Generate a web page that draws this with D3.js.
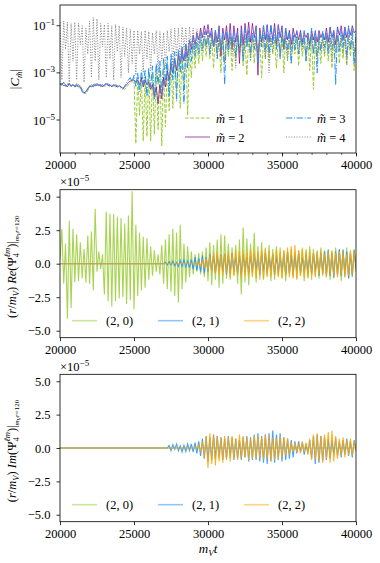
<!DOCTYPE html>
<html>
<head>
<meta charset="utf-8">
<script src="https://cdn.jsdelivr.net/npm/d3@7"></script>
<style>
  body { margin: 0; background: #fff; }
  text { font-family: "Liberation Serif", "DejaVu Serif", serif; fill: #000; }
</style>
</head>
<body>
<div id="chart"></div>
<script>
//----------data---------
//time axis: samples every 125 in m_V t
const T_MIN = 20000, T_MAX = 40000, STEP = 125;
const xTicks = [20000, 25000, 30000, 35000, 40000];
const logTicks = [-1, -3, -5];
const waveTicks = [5, 2.5, 0, -2.5, -5];

//top panel: log10 |C_m| for m = 1..4, from 20000
const cm1Log = [
  -3.45, -3.55, -3.4, -3.6, -3.45, -3.5, -3.6, -3.5, -3.55, -3.45, -3.6, -3.55, -3.7, -3.8, -3.9, -3.75,
  -3.6, -3.5, -3.55, -3.45, -3.55, -3.5, -3.6, -3.5, -3.55, -3.45, -3.5, -3.6, -3.55, -3.5, -3.6, -3.55,
  -3.5, -3.6, -3.65, -3.7, -3.6, -3.5, -3.4, -3.3, -3.3, -6.0, -3.2, -4.8, -3.2, -5.9, -3.1, -5.7,
  -3.0, -5.9, -3.0, -5.6, -2.9, -5.4, -2.9, -6.1, -2.8, -5.3, -2.6, -4.6, -2.5, -4.5, -2.4, -3.8,
  -2.3, -4.5, -2.2, -3.5, -2.0, -4.8, -2.0, -3.2, -1.8, -2.8, -1.7, -2.6, -1.6, -2.5, -1.5, -2.3,
  -1.4, -2.4, -1.5, -2.8, -1.4, -2.2, -1.6, -3.0, -1.5, -2.6, -1.4, -2.3, -1.5, -2.9, -1.6, -2.5,
  -1.5, -2.2, -1.4, -2.7, -1.6, -3.1, -1.5, -2.4, -1.4, -2.6, -1.5, -2.3, -1.6, -3.2, -1.5, -2.4,
  -1.4, -2.5, -1.5, -2.2, -1.6, -2.8, -1.5, -2.3, -1.4, -3.0, -1.5, -2.4, -1.6, -2.6, -1.5, -2.2,
  -1.5, -2.7, -1.4, -2.3, -1.6, -2.5, -1.5, -2.9, -1.4, -3.7, -1.5, -2.4, -1.6, -2.6, -1.5, -2.3,
  -1.4, -2.5, -1.5, -2.8, -1.6, -2.2, -1.4, -2.6, -1.5, -2.4, -1.3, -2.7, -1.5, -2.3, -1.4, -2.9,
  -1.8
];
const cm2Log = [
  -3.5, -3.45, -3.55, -3.5, -3.6, -3.45, -3.55, -3.5, -3.6, -3.55, -3.5, -3.6, -3.75, -3.85, -3.8, -3.7,
  -3.55, -3.6, -3.5, -3.55, -3.45, -3.55, -3.5, -3.6, -3.5, -3.45, -3.55, -3.5, -3.6, -3.5, -3.55, -3.6,
  -3.55, -3.6, -3.65, -3.6, -3.5, -3.4, -3.35, -3.3, -3.3, -3.4, -3.3, -3.5, -3.2, -3.6, -3.3, -3.5,
  -3.4, -3.7, -3.5, -4.0, -3.6, -4.3, -3.5, -4.1, -3.2, -3.6, -2.9, -3.3, -2.6, -3.0, -2.4, -2.9,
  -2.2, -2.6, -2.0, -2.5, -1.8, -2.3, -1.6, -2.0, -1.4, -1.8, -1.3, -1.6, -1.1, -1.5, -1.0, -1.4,
  -0.95, -1.5, -1.1, -1.9, -1.2, -1.7, -1.0, -2.3, -1.1, -1.6, -1.0, -1.8, -0.9, -2.0, -1.0, -1.7,
  -1.1, -2.6, -1.0, -1.8, -0.9, -1.6, -0.85, -1.7, -0.9, -1.5, -1.0, -3.1, -1.1, -1.7, -1.0, -1.6,
  -0.95, -1.7, -1.0, -1.6, -0.9, -1.8, -0.95, -1.5, -1.0, -2.0, -1.1, -1.6, -1.2, -1.8, -1.1, -1.5,
  -1.25, -1.6, -1.2, -1.7, -1.3, -1.5, -1.3, -1.8, -1.2, -1.6, -1.25, -1.7, -1.2, -1.5, -1.3, -1.6,
  -1.1, -1.7, -1.05, -1.5, -1.2, -1.8, -1.05, -1.4, -1.0, -1.6, -1.05, -1.5, -1.1, -1.4, -1.0, -1.3,
  -1.2
];
const cm3Log = [
  -3.45, -3.5, -3.4, -3.55, -3.5, -3.45, -3.6, -3.5, -3.55, -3.5, -3.65, -3.6, -3.8, -3.9, -3.8, -3.65,
  -3.6, -3.5, -3.6, -3.5, -3.55, -3.45, -3.55, -3.5, -3.6, -3.5, -3.45, -3.55, -3.5, -3.6, -3.5, -3.55,
  -3.6, -3.65, -3.7, -3.55, -3.4, -3.3, -3.2, -3.4, -3.1, -3.6, -3.0, -3.8, -2.9, -3.5, -2.9, -4.0,
  -2.8, -3.6, -2.7, -4.1, -2.6, -3.5, -2.5, -3.9, -2.4, -3.4, -2.3, -4.0, -2.2, -3.3, -2.1, -4.2,
  -2.0, -3.0, -1.9, -4.3, -1.8, -2.8, -1.6, -2.5, -1.5, -2.3, -1.4, -2.2, -1.3, -2.0, -1.25, -1.9,
  -1.2, -2.2, -1.3, -1.9, -1.2, -2.4, -1.1, -2.0, -1.25, -3.5, -1.2, -2.1, -1.3, -1.8, -1.2, -2.3,
  -1.3, -2.0, -1.2, -2.5, -1.1, -1.9, -1.2, -2.2, -1.3, -2.0, -1.1, -2.6, -1.2, -1.9, -1.0, -2.1,
  -1.0, -2.2, -0.95, -1.8, -1.1, -2.0, -1.0, -2.4, -1.2, -1.9, -1.1, -2.1, -1.2, -2.6, -1.3, -2.0,
  -1.2, -2.2, -1.3, -1.9, -1.2, -2.5, -1.3, -2.0, -1.1, -2.2, -1.2, -3.0, -1.3, -2.1, -1.2, -1.9,
  -1.3, -2.2, -1.1, -2.0, -1.2, -3.5, -1.1, -2.1, -1.2, -1.9, -1.1, -2.3, -1.0, -2.0, -1.1, -2.6,
  -1.3
];
const cm4Log = [
  -0.85, -3.3, -0.8, -2.0, -0.85, -3.4, -0.9, -2.5, -0.85, -3.3, -0.9, -1.8, -1.0, -3.4, -1.1, -2.2,
  -0.8, -3.2, -0.65, -2.5, -0.7, -3.3, -0.9, -1.9, -0.95, -3.2, -0.9, -2.4, -1.0, -3.3, -0.95, -2.1,
  -1.0, -3.2, -1.05, -2.3, -1.1, -3.0, -1.15, -2.6, -1.2, -3.1, -1.2, -2.2, -1.25, -3.0, -1.2, -2.4,
  -1.25, -2.9, -1.3, -2.2, -1.2, -3.0, -1.25, -2.5, -1.3, -2.8, -1.2, -2.1, -1.15, -2.7, -1.1, -2.3,
  -1.1, -2.6, -1.05, -2.0, -1.1, -2.5, -1.05, -1.9, -1.1, -2.2, -1.15, -1.8, -1.2, -2.1, -1.3, -1.9,
  -1.4, -2.1, -1.5, -1.9, -1.45, -2.4, -1.5, -2.0, -1.4, -2.6, -1.5, -1.9, -1.45, -2.2, -1.5, -2.8,
  -1.4, -2.0, -1.5, -2.3, -1.45, -1.9, -1.4, -2.5, -1.5, -2.0, -1.45, -2.2, -1.5, -1.9, -1.4, -2.4,
  -1.45, -3.0, -1.5, -2.1, -1.4, -1.9, -1.5, -2.3, -1.45, -2.0, -1.5, -2.5, -1.4, -2.1, -1.5, -1.9,
  -1.45, -2.2, -1.5, -2.0, -1.4, -2.4, -1.5, -1.9, -1.45, -2.1, -1.5, -2.3, -1.4, -2.0, -1.5, -2.2,
  -1.45, -2.0, -1.5, -2.4, -1.4, -2.1, -1.5, -1.9, -1.45, -2.2, -1.5, -2.6, -1.4, -2.0, -1.5, -2.1,
  -1.7
];

//middle panel: Re(Psi4) in units of 1e-5
const re20Start = 20000;
const re20 = [
  0.3, 2.6, -1.5, 1.5, -4.1, 3.2, -3.3, 2.6, -1.4, 2.2, -1.3, 1.6, -1.1, 1.1, -1.4, 2.1,
  -1.5, 2.4, -2.0, 4.1, -0.6, 0.9, -0.4, 0.7, -2.3, 3.9, -2.8, 3.75, -3.2, 3.7, -2.8, 3.5,
  -2.6, 3.4, -2.5, 3.0, -3.0, 3.6, -2.7, 5.4, -3.4, 2.9, -2.4, 2.3, -2.0, 2.0, -1.8, 1.9,
  -1.2, 1.3, -0.9, 1.0, -0.6, 0.7, -0.8, 1.4, -1.5, 1.8, -1.9, 2.2, -2.1, 2.6, -2.4, 2.3,
  -2.9, 2.9, -1.9, 1.5, -1.4, 1.3, -1.0, 0.9, -0.8, 0.7, -0.6, 0.8, -0.8, 0.9, -1.0, 1.2,
  -1.3, 1.6, -1.6, 1.4, -1.2, 1.8, -1.8, 2.2, -1.5, 2.1, -1.1, 1.5, -1.2, 1.2, -0.9, 1.4,
  -1.5, 1.8, -2.3, 2.7, -1.4, 1.9, -1.6, 1.5, -1.0, 2.3, -1.4, 1.3, -1.2, 1.6, -1.1, 1.2,
  -1.0, 1.4, -1.3, 1.1, -1.2, 1.3, -0.9, 1.2, -1.1, 1.0, -1.3, 0.9, -0.8, 1.1, -1.0, 0.9,
  -1.1, 1.0, -0.9, 1.2, -1.3, 1.1, -1.0, 1.3, -1.2, 1.1, -0.9, 1.0, -1.1, 1.2, -0.8, 1.0,
  -1.0, 1.1, -1.2, 0.9, -1.1, 1.2, -0.9, 1.0, -1.3, 1.1, -1.0, 1.2, -1.1, 0.9, -1.0, 1.1,
  -0.6
];
const re21Start = 27000;
const re21 = [
  0.0, 0.1, -0.1, 0.15, -0.1, 0.2, -0.15, 0.1, -0.2, 0.25, -0.2, 0.3, -0.25, 0.2, -0.3, 0.3,
  -0.4, 0.5, -0.5, 0.4, -0.6, 0.6, -0.7, 0.5, -0.6, 0.7, -0.5, 0.6, -0.7, 0.6, -0.5, 0.7,
  -0.6, 0.7, -0.8, 0.6, -0.7, 0.8, -0.6, 0.5, -0.7, 0.6, -0.8, 0.7, -0.6, 0.5, -0.7, 0.6,
  -0.6, 0.7, -0.5, 0.6, -0.8, 0.7, -0.6, 0.8, -0.7, 0.6, -0.5, 0.7, -0.8, 0.6, -0.7, 0.5,
  -0.6, 0.7, -0.8, 0.9, -0.7, 0.6, -0.8, 0.7, -0.6, 0.8, -0.7, 0.5, -0.6, 0.7, -0.8, 0.6,
  -0.7, 0.8, -0.6, 0.7, -0.9, 0.8, -0.7, 0.9, -0.8, 1.0, -0.9, 0.8, -1.0, 0.9, -0.8, 1.1,
  -0.9, 1.0, -0.8, 0.9, -1.1, 0.8, -0.9, 1.0, -0.3
];
const re22Start = 29000;
const re22 = [
  0.0, 0.05, -0.1, 0.15, -0.2, 0.3, -0.35, 0.4, -0.5, 0.6, -0.7, 0.8, -0.7, 0.9, -0.8, 0.7,
  -0.9, 0.8, -0.7, 0.9, -1.0, 0.8, -0.9, 1.0, -0.8, 0.9, -1.1, 1.0, -0.9, 0.8, -1.0, 1.1,
  -0.9, 1.0, -1.1, 0.9, -0.8, 1.0, -1.2, 1.1, -0.9, 1.0, -1.0, 0.8, -0.9, 1.1, -1.0, 0.9,
  -1.1, 1.0, -0.9, 1.2, -1.0, 1.3, -1.1, 1.4, -1.2, 1.0, -0.9, 1.1, -1.0, 0.9, -1.1, 1.0,
  -0.9, 0.8, -1.0, 0.9, -0.8, 1.0, -0.9, 0.7, -1.0, 0.9, -0.8, 1.0, -0.9, 0.8, -1.0, 0.9,
  -0.8, 0.9, -1.0, 0.7, -0.9, 1.0, -0.8, 0.9, -0.2
];

//bottom panel: Im(Psi4) in units of 1e-5, (2,0) stays at zero
const im20Start = 40000;
const im20 = [0.0];
const im21Start = 27250;
const im21 = [
  0.0, 0.2, -0.2, 0.25, -0.1, 0.3, -0.2, 0.15, -0.3, 0.2, -0.25, 0.3, -0.2, 0.3, -0.3, 0.4,
  -0.4, 0.5, -0.6, 0.7, -0.8, 0.9, -1.0, 0.8, -0.9, 1.0, -0.8, 0.9, -0.7, 0.8, -0.9, 0.7,
  -0.8, 0.9, -0.7, 0.8, -0.9, 0.7, -0.8, 0.6, -0.9, 0.8, -0.7, 0.9, -1.0, 0.8, -0.9, 1.0,
  -0.9, 1.1, -1.0, 0.9, -1.1, 1.0, -1.2, 1.1, -1.0, 1.3, -1.1, 1.0, -0.9, 1.1, -1.0, 0.8,
  -0.9, 0.7, -0.8, 0.6, -0.7, 0.5, -0.4, 0.5, -0.3, 0.4, -0.5, 0.3, -0.4, 0.6, -0.8, 0.9,
  -1.2, 1.0, -1.1, 0.9, -1.0, 0.8, -0.9, 0.7, -0.8, 0.6, -0.5, 0.7, -0.6, 0.5, -0.7, 0.6,
  -0.5, 0.7, -0.6, 0.5, -0.7, 0.6, -0.2
];
const im22Start = 29250;
const im22 = [
  0.0, 0.2, -0.3, 0.5, -0.7, 0.9, -1.5, 1.1, -1.2, 1.0, -1.3, 0.9, -1.0, 0.8, -1.1, 0.9,
  -0.9, 0.8, -1.0, 0.9, -0.8, 0.7, -0.9, 1.0, -0.8, 0.9, -0.7, 0.8, -0.9, 0.7, -0.8, 0.9,
  -0.8, 0.9, -0.7, 0.8, -0.9, 1.0, -0.8, 0.9, -1.0, 0.8, -0.9, 0.7, -0.8, 0.9, -0.7, 0.8,
  -0.6, 0.7, -0.5, 0.4, -0.3, 0.4, -0.3, 0.3, -0.4, 0.5, -0.3, 0.4, -0.5, 0.7, -0.9, 1.0,
  -0.9, 1.1, -1.0, 0.9, -1.1, 1.0, -0.8, 1.2, -1.1, 1.3, -1.0, 0.9, -0.8, 0.7, -0.6, 0.8,
  -0.7, 0.6, -0.5, 0.7, -0.6, 0.5, -0.2
];

const mLabels = ["1", "2", "3", "4"];
const lmLabels = ["(2, 0)", "(2, 1)", "(2, 2)"];

//----------layout---------
const width = 380, height = 563;
const plotLeft = 60, plotRight = 356;
const green = "#9acd32", purple = "#800080", blue = "#1e90ff", orange = "#ffa500", gray = "#808080";

const svg = d3.select("#chart").append("svg")
  .attr("width", width)
  .attr("height", height)
  .style("background", "#fff");

const x = d3.scaleLinear().domain([T_MIN, T_MAX]).range([plotLeft, plotRight]);

//turn a start time + values into [t, v] points, zero padded to the full range
function toPoints(start, vals) {
  let pts = [];
  if (start > T_MIN) pts.push([T_MIN, 0]);
  vals.forEach((v, i) => pts.push([start + i * STEP, v]));
  if (pts[pts.length - 1][0] < T_MAX) pts.push([T_MAX, 0]);
  return pts;
}

function addClip(id, top, bottom) {
  svg.append("clipPath").attr("id", id)
    .append("rect")
    .attr("x", plotLeft).attr("y", top)
    .attr("width", plotRight - plotLeft).attr("height", bottom - top);
}

function drawXAxis(top, bottom, minor) {
  if (minor) {
    svg.append("g")
      .attr("transform", `translate(0, ${bottom})`)
      .call(d3.axisBottom(x).tickValues(d3.range(T_MIN, T_MAX + 1, 1000)).tickSize(2).tickFormat(""))
      .call(g => g.select(".domain").remove())
      .selectAll("line").attr("stroke-width", 0.6);
  }
  let g = svg.append("g")
    .attr("transform", `translate(0, ${bottom})`)
    .call(d3.axisBottom(x).tickValues(xTicks).tickSize(3.5).tickPadding(3.5).tickFormat(d3.format("d")));
  g.select(".domain").remove();
  g.selectAll("line").attr("stroke-width", 0.8);
  g.selectAll("text").style("font-size", "12.5px").style("font-family", "Liberation Serif");
}

function drawFrame(top, bottom) {
  svg.append("rect")
    .attr("x", plotLeft).attr("y", top)
    .attr("width", plotRight - plotLeft).attr("height", bottom - top)
    .attr("fill", "none").attr("stroke", "#000").attr("stroke-width", 0.8);
}

//----------top panel: |C_m| on a log axis---------
function drawLogPanel(top, bottom) {
  const y = d3.scaleLog().domain([Math.pow(10, -6.4), Math.pow(10, -0.12)]).range([bottom, top]);
  addClip("clip1", top, bottom);

  const line = d3.line().x(d => x(d[0])).y(d => y(Math.pow(10, d[1])));
  const series = [
    {vals: cm1Log, color: green, dash: "3.7,1.6", op: 1},
    {vals: cm2Log, color: purple, dash: null, op: 0.7},
    {vals: cm3Log, color: blue, dash: "6.4,1.6,1,1.6", op: 1},
    {vals: cm4Log, color: gray, dash: "1,1.65", op: 1}
  ];

  let plot = svg.append("g").attr("clip-path", "url(#clip1)");
  series.forEach(s => {
    plot.append("path")
      .datum(toPoints(T_MIN, s.vals))
      .attr("d", line)
      .attr("fill", "none")
      .attr("stroke", s.color)
      .attr("stroke-width", 1)
      .attr("stroke-opacity", s.op)
      .attr("stroke-dasharray", s.dash);
  });

  //y ticks 10^-1, 10^-3, 10^-5
  logTicks.forEach(p => {
    let yy = y(Math.pow(10, p));
    svg.append("line").attr("x1", plotLeft - 3.5).attr("x2", plotLeft)
      .attr("y1", yy).attr("y2", yy).attr("stroke", "#000").attr("stroke-width", 0.8);
    let t = svg.append("text").attr("x", plotLeft - 5).attr("y", yy + 4.5)
      .attr("text-anchor", "end").style("font-size", "12.5px");
    t.append("tspan").text("10");
    t.append("tspan").attr("dy", -5).style("font-size", "9px").text("\u2212" + Math.abs(p));
  });

  drawXAxis(top, bottom, true);
  drawFrame(top, bottom);

  //y label |C_m|
  let lab = svg.append("text")
    .attr("transform", `translate(19, ${(top + bottom) / 2}) rotate(-90)`)
    .attr("text-anchor", "middle").style("font-size", "13px");
  lab.append("tspan").text("|");
  lab.append("tspan").style("font-style", "italic").text("C");
  lab.append("tspan").attr("dy", 3).style("font-size", "9px").style("font-style", "italic").text("m\u0303");
  lab.append("tspan").attr("dy", -3).text("|");

  //legend, two columns
  const legendPos = [[185, 118], [185, 137], [286, 118], [286, 137]];
  series.forEach((s, i) => {
    let [lx, ly] = legendPos[i];
    svg.append("line").attr("x1", lx).attr("x2", lx + 25).attr("y1", ly).attr("y2", ly)
      .attr("stroke", s.color).attr("stroke-width", 1)
      .attr("stroke-opacity", s.op).attr("stroke-dasharray", s.dash);
    let t = svg.append("text").attr("x", lx + 31).attr("y", ly + 4.5).style("font-size", "12.5px");
    t.append("tspan").style("font-style", "italic").text("m\u0303");
    t.append("tspan").text(" = " + mLabels[i]);
  });
}

//----------wave panels: Re / Im of Psi4---------
function drawWavePanel(top, bottom, series, part, clipId) {
  const y = d3.scaleLinear().domain([-5.52, 5.52]).range([bottom, top]);
  addClip(clipId, top, bottom);
  const line = d3.line().x(d => x(d[0])).y(d => y(d[1]));

  let plot = svg.append("g").attr("clip-path", `url(#${clipId})`);
  series.forEach(s => {
    plot.append("path")
      .datum(toPoints(s.start, s.vals))
      .attr("d", line)
      .attr("fill", "none")
      .attr("stroke", s.color)
      .attr("stroke-width", 1.1)
      .attr("stroke-opacity", 0.85);
  });

  let g = svg.append("g")
    .attr("transform", `translate(${plotLeft}, 0)`)
    .call(d3.axisLeft(y).tickValues(waveTicks).tickSize(3.5).tickPadding(6)
      .tickFormat(d => d3.format(".1f")(d).replace("-", "\u2212")));
  g.select(".domain").remove();
  g.selectAll("line").attr("stroke-width", 0.8);
  g.selectAll("text").style("font-size", "12.5px").style("font-family", "Liberation Serif");

  drawXAxis(top, bottom, false);
  drawFrame(top, bottom);

  //offset text x10^-5
  let off = svg.append("text").attr("x", plotLeft).attr("y", top - 3.5).style("font-size", "12.5px");
  off.append("tspan").text("\u00d710");
  off.append("tspan").attr("dy", -5).style("font-size", "9px").text("\u22125");

  //y label (r/m_V) Re(Psi_4^{lm})|_{m_V r=120}
  let lab = svg.append("text")
    .attr("transform", `translate(16, ${(top + bottom) / 2 + 3}) rotate(-90)`)
    .attr("text-anchor", "middle").style("font-size", "12.5px");
  lab.append("tspan").text("(");
  lab.append("tspan").style("font-style", "italic").text("r");
  lab.append("tspan").text("/");
  lab.append("tspan").style("font-style", "italic").text("m");
  lab.append("tspan").attr("dy", 2.5).style("font-size", "8.5px").style("font-style", "italic").text("V");
  lab.append("tspan").attr("dy", -2.5).text(") ");
  lab.append("tspan").style("font-style", "italic").text(part);
  lab.append("tspan").text("(\u03a8");
  lab.append("tspan").attr("dy", 3).style("font-size", "8.5px").text("4");
  lab.append("tspan").attr("dx", -4.5).attr("dy", -9).style("font-size", "8.5px").style("font-style", "italic").text("\u2113m");
  lab.append("tspan").attr("dy", 6).text(")|");
  lab.append("tspan").attr("dy", 3).style("font-size", "7px").style("font-style", "italic").text("m");
  lab.append("tspan").attr("dy", 1.5).style("font-size", "5.5px").style("font-style", "italic").text("V");
  lab.append("tspan").attr("dy", -1.5).style("font-size", "7px").style("font-style", "italic").text("r");
  lab.append("tspan").style("font-size", "7px").text("=120");

  //legend in one row
  const legendX = [72, 158, 244];
  const ly = bottom - 17;
  series.forEach((s, i) => {
    svg.append("line").attr("x1", legendX[i]).attr("x2", legendX[i] + 25)
      .attr("y1", ly).attr("y2", ly)
      .attr("stroke", s.color).attr("stroke-width", 1.6).attr("stroke-opacity", 0.5);
    svg.append("text").attr("x", legendX[i] + 34).attr("y", ly + 4.5)
      .style("font-size", "12.5px").text(lmLabels[i]);
  });
}

drawLogPanel(5, 153);

drawWavePanel(189.7, 337.7, [
  {start: re20Start, vals: re20, color: green},
  {start: re21Start, vals: re21, color: blue},
  {start: re22Start, vals: re22, color: orange}
], "Re", "clip2");

drawWavePanel(374.3, 521.7, [
  {start: im20Start, vals: im20, color: green},
  {start: im21Start, vals: im21, color: blue},
  {start: im22Start, vals: im22, color: orange}
], "Im", "clip3");

//x label under the last panel
let xl = svg.append("text").attr("x", (plotLeft + plotRight) / 2).attr("y", 553)
  .attr("text-anchor", "middle").style("font-size", "13px");
xl.append("tspan").style("font-style", "italic").text("m");
xl.append("tspan").attr("dy", 3).style("font-size", "9px").style("font-style", "italic").text("V");
xl.append("tspan").attr("dy", -3).style("font-style", "italic").text("t");
</script>
</body>
</html>
